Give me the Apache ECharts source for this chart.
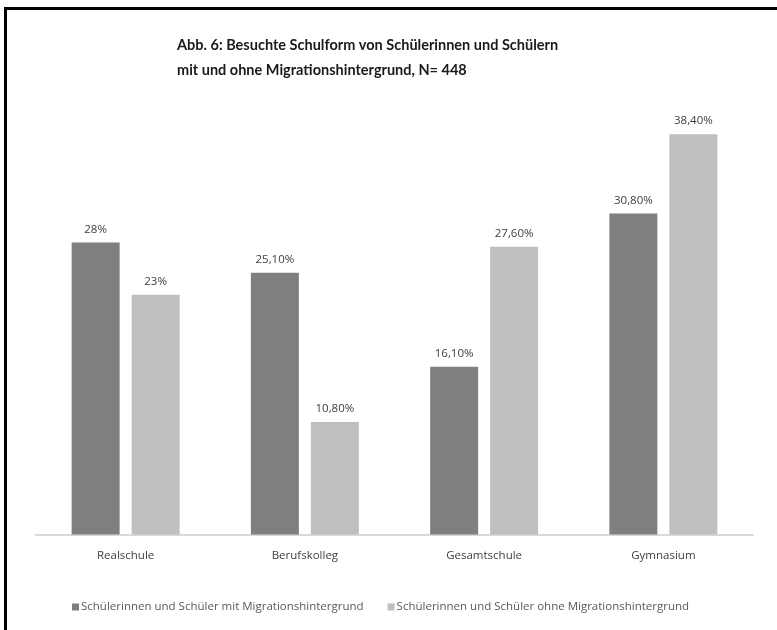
<!DOCTYPE html>
<html><head><meta charset="utf-8">
<script src="https://cdn.jsdelivr.net/npm/echarts@6/dist/echarts.min.js"></script>
<style>html,body{margin:0;padding:0;background:#fff}#c{width:777px;height:630px}</style>
</head><body><div id="c"></div>
<script>
var categories = ['Realschule', 'Berufskolleg', 'Gesamtschule', 'Gymnasium'];
var seriesNames = ['Schülerinnen und Schüler mit Migrationshintergrund', 'Schülerinnen und Schüler ohne Migrationshintergrund'];
var withMigration = [28, 25.1, 16.1, 30.8];
var withoutMigration = [23, 10.8, 27.6, 38.4];
var labelsWith = ['28%', '25,10%', '16,10%', '30,80%'];
var labelsWithout = ['23%', '10,80%', '27,60%', '38,40%'];

var FONT = "'Open Sans', sans-serif";
var TFONT = "Lato, 'Open Sans', sans-serif";
var chart = echarts.init(document.getElementById('c'), null, {renderer: 'canvas'});
function mk(name, data, labels, color) {
  return {
    name: name, type: 'bar', data: data, barWidth: 48, barGap: '25%',
    itemStyle: {color: color},
    label: {show: true, position: 'top', distance: 7, color: '#404040', fontSize: 11.5, fontFamily: FONT,
      formatter: function (p) { return labels[p.dataIndex]; }}
  };
}
chart.setOption({
  animation: false,
  title: {text: 'Abb. 6: Besuchte Schulform von Schülerinnen und Schülern\nmit und ohne Migrationshintergrund, N= 448',
    left: 172, top: 28,
    textStyle: {fontFamily: TFONT, fontWeight: 'bold', fontSize: 14.5, lineHeight: 25, color: '#1a1a1a'}},
  legend: {bottom: 12, left: 67, itemWidth: 7, itemHeight: 7, itemGap: 24, icon: 'rect',
    textStyle: {fontFamily: FONT, fontSize: 11.5, color: '#595959', padding: [0, 0, 0, -3]},
    data: seriesNames},
  grid: {left: 36, right: 24, top: 117.5, bottom: 95.5},
  xAxis: {type: 'category', data: categories,
    axisLine: {lineStyle: {color: '#d9d9d9', width: 2}}, axisTick: {show: false},
    axisLabel: {color: '#404040', fontSize: 11.5, fontFamily: FONT, margin: 15}},
  yAxis: {type: 'value', min: 0, max: 40, show: false},
  series: [mk(seriesNames[0], withMigration, labelsWith, '#7f7f7f'), mk(seriesNames[1], withoutMigration, labelsWithout, '#bfbfbf')],
  graphic: [{type: 'polyline', shape: {points: [[5.5, 640], [5.5, 8.5], [790, 8.5]]},
    style: {stroke: '#000', lineWidth: 3, fill: null}}]
});
</script></body></html>
